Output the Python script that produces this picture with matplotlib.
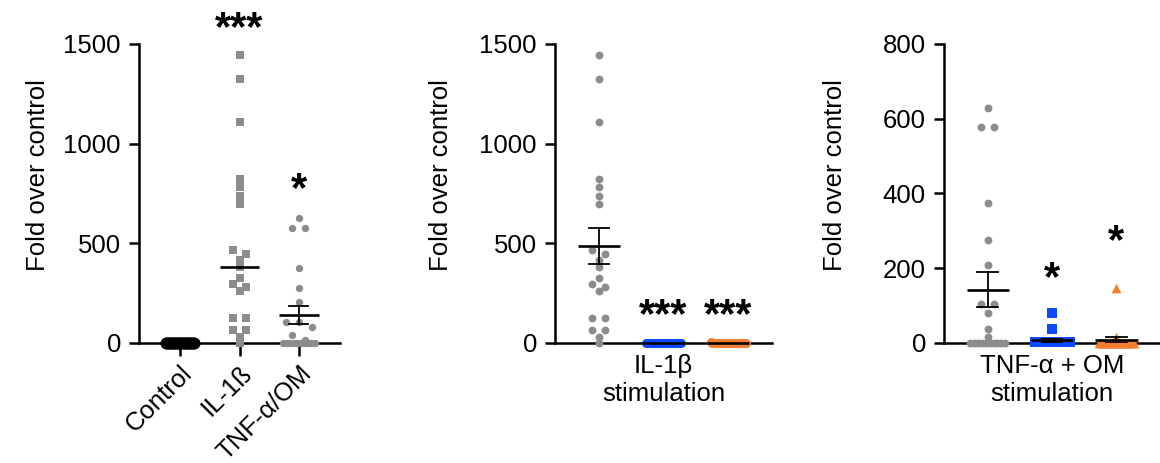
import numpy as np
import matplotlib
matplotlib.use('Agg')
import matplotlib.pyplot as plt

plt.rcParams['font.family'] = ['Liberation Sans', 'DejaVu Sans']

# Werte
control_vals = [1, 1, 1, 1, 1, 1, 1, 1, 1, 1, 1, 1, 1, 1, 1, 1, 1, 1, 1, 1, 1]
il1b_vals = [1445, 1322, 1108, 822, 783, 738, 697, 467, 447, 417, 383,
             328, 297, 283, 262, 125, 125, 67, 67, 30, 0]
tnf_vals = [628, 579, 579, 375, 275, 208, 105, 105, 80, 38, 16,
            0, 0, 0, 0, 0, 0, 0, 0, 0, 0]

il1b_blue = [0, 0, 0, 0, 0, 0, 0, 0, 0, 0, 0, 0, 0, 0, 0, 0, 0, 0, 0, 0, 0]
il1b_orange = [0, 0, 0, 0, 0, 0, 0, 0, 0, 0, 0, 0, 0, 0, 0, 0, 0, 0, 0, 0, 5]
tnf_blue = [79, 37, 2, 2, 2, 2, 2, 2, 2, 2, 2, 2, 2, 2, 2, 2, 2, 2, 2, 2, 2]
tnf_orange = [146, 16, 0, 0, 0, 0, 0, 0, 0, 0, 0, 0, 0, 0, 0, 0, 0, 0, 0, 0, 0]

# Mittelwert / SEM
p1_mean = [1, 382, 142]
p1_sem = [0, 0, 46]
p2_mean = [486, 0.5, 0.5]
p2_sem = [90, 0, 0]
p3_mean = [143, 7, 8]
p3_sem = [47, 4, 7]

p1_labels = ['Control', 'IL-1ß', 'TNF-α/OM']
p1_stars = [None, '***', '*']
p1_star_y = [None, 1575, 765]
p2_stars = [None, '***', '***']
p2_star_y = [None, 135, 135]
p3_stars = [None, '*', '*']
p3_star_y = [None, 172, 270]

GRAY = '#8c8c8c'
BLUE = '#0a4bff'
ORANGE = '#f07f30'

W, H = 1160, 463
fig = plt.figure(figsize=(W / 100, H / 100), dpi=100)


def add_ax(x0, x1):
    return fig.add_axes([x0 / W, (H - 343) / H, (x1 - x0) / W, 299 / H])


def swarm(vals, px_y, px_x, half_px, tol_px=5.5, gap_px=13):
    # einfache Schwarm-Anordnung: nahe Werte nebeneinander legen
    vals = np.asarray(vals, float)
    order = np.argsort(-vals, kind='stable')
    offs = np.zeros(len(vals))
    groups = []
    for i in order:
        if groups and (vals[groups[-1][0]] - vals[i]) * px_y <= tol_px:
            groups[-1].append(i)
        else:
            groups.append([i])
    for g in groups:
        k = len(g)
        if k == 1:
            continue
        step = min(gap_px, 2 * half_px / (k - 1))
        offs[g] = (np.arange(k) - (k - 1) / 2) * step / px_x
    return offs


def style(ax, ymax, yticks):
    ax.set_xlim(-0.68, 2.68)
    ax.set_ylim(0, ymax)
    ax.set_yticks(yticks)
    for s in ['top', 'right']:
        ax.spines[s].set_visible(False)
    for s in ['left', 'bottom']:
        ax.spines[s].set_linewidth(1.8)
    ax.tick_params(axis='y', direction='out', length=7, width=1.8,
                   labelsize=18.5, pad=6)
    ax.set_ylabel('Fold over control', fontsize=18.5)


def draw_group(ax, x, vals, color, marker, size, mean, sem, half_px=16):
    pos = ax.get_position()
    px_x = pos.width * W / (ax.get_xlim()[1] - ax.get_xlim()[0])
    px_y = pos.height * H / (ax.get_ylim()[1] - ax.get_ylim()[0])
    offs = swarm(vals, px_y, px_x, half_px)
    ax.scatter(x + offs, vals, s=size, marker=marker, color=color,
               linewidths=0, clip_on=False, zorder=3)
    ax.plot([x - 0.33, x + 0.33], [mean, mean], color='black', lw=1.9,
            solid_capstyle='butt', zorder=4, clip_on=False)
    if sem > 0:
        ax.plot([x, x], [mean - sem, mean + sem], color='black', lw=1.3, zorder=4)
        for yv in (mean - sem, mean + sem):
            ax.plot([x - 0.16, x + 0.16], [yv, yv], color='black', lw=1.3, zorder=4)


def stars(ax, texts, ys):
    for i, (t, yv) in enumerate(zip(texts, ys)):
        if t:
            ax.text(i, yv, t, ha='center', va='center', fontsize=30,
                    fontweight='bold', clip_on=False)


# Panel 1
ax1 = add_ax(139, 340)
style(ax1, 1500, [0, 500, 1000, 1500])
ax1.set_xlim(-0.69, 2.69)
draw_group(ax1, 0, control_vals, 'black', 'o', 75, p1_mean[0], p1_sem[0], half_px=14)
draw_group(ax1, 1, il1b_vals, GRAY, 's', 30, p1_mean[1], p1_sem[1])
draw_group(ax1, 2, tnf_vals, GRAY, 'o', 28, p1_mean[2], p1_sem[2])
ax1.set_xticks([0, 1, 2])
ax1.set_xticklabels(p1_labels, rotation=45, ha='right', va='top',
                    rotation_mode='anchor', fontsize=18.5)
ax1.tick_params(axis='x', direction='out', length=9, width=1.8, pad=4)
stars(ax1, p1_stars, p1_star_y)
ax1.yaxis.set_label_coords(-0.443, 0.562)

# Panel 2
ax2 = add_ax(555, 772)
style(ax2, 1500, [0, 500, 1000, 1500])
draw_group(ax2, 0, il1b_vals, GRAY, 'o', 32, p2_mean[0], p2_sem[0])
draw_group(ax2, 1, il1b_blue, BLUE, 'o', 42, p2_mean[1], p2_sem[1], half_px=17.5)
draw_group(ax2, 2, il1b_orange, ORANGE, 'o', 42, p2_mean[2], p2_sem[2], half_px=17.5)
ax2.set_xticks([])
ax2.set_xlabel('IL-1β\nstimulation', fontsize=18.5, labelpad=8)
stars(ax2, p2_stars, p2_star_y)
ax2.yaxis.set_label_coords(-0.470, 0.562)

# Panel 3
ax3 = add_ax(944, 1160)
style(ax3, 800, [0, 200, 400, 600, 800])
draw_group(ax3, 0, tnf_vals, GRAY, 'o', 32, p3_mean[0], p3_sem[0], half_px=17.5)
draw_group(ax3, 1, tnf_blue, BLUE, 's', 42, p3_mean[1], p3_sem[1], half_px=17.5)
draw_group(ax3, 2, tnf_orange, ORANGE, '^', 48, p3_mean[2], p3_sem[2], half_px=17.5)
ax3.set_xticks([])
ax3.set_xlabel('TNF-α + OM\nstimulation', fontsize=18.5, labelpad=8)
stars(ax3, p3_stars, p3_star_y)
ax3.yaxis.set_label_coords(-0.449, 0.562)

fig.savefig('out.png', dpi=100)
